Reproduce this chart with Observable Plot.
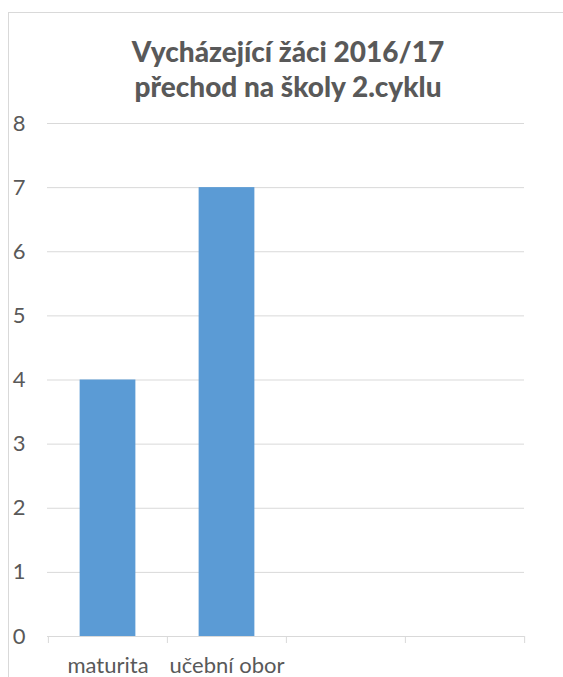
<!DOCTYPE html>
<html>
<head>
<meta charset="utf-8">
<script src="https://cdn.jsdelivr.net/npm/d3@7"></script>
<script src="https://cdn.jsdelivr.net/npm/@observablehq/plot@0.6"></script>
<style>
  html, body { margin: 0; padding: 0; background: #fff; }
  #wrap { position: relative; width: 563px; height: 677px; overflow: hidden; font-family: Lato, "Open Sans", sans-serif; }
  #frame { position: absolute; left: 8px; top: 12px; width: 600px; height: 700px; border-left: 1px solid #d9d9d9; border-top: 1px solid #d9d9d9; }
  #title { position: absolute; left: 20px; top: 34px; width: 536px; text-align: center; font-weight: 900; font-size: 28px; line-height: 35px; color: #595959; white-space: nowrap; }
  #chart { position: absolute; left: 0; top: 0; }
</style>
</head>
<body>
<div id="wrap">
  <div id="frame"></div>
  <div id="chart"></div>
  <div id="title">Vycházející žáci 2016/17<br>přechod na školy 2.cyklu</div>
</div>
<script>
const categories = ["maturita", "učební obor", "slot3", "slot4"];
const tickLabels = ["maturita", "učební obor", "", ""];
const values = [4, 7];
const yTicks = [0, 1, 2, 3, 4, 5, 6, 7, 8];

const data = values.map((v, i) => ({cat: categories[i], value: v}));
const W = 563, H = 677, mL = 47, mR = 39, mT = 123, mB = 41;
const bw = (W - mL - mR) / categories.length;
const barW = 56;
const inset = (bw - barW) / 2;
const textColor = "#595959";
const gridColor = "#d9d9d9";

const chart = Plot.plot({
  width: W,
  height: H,
  marginLeft: mL,
  marginRight: mR,
  marginTop: mT,
  marginBottom: mB,
  style: {fontFamily: "Lato, 'Open Sans', sans-serif", background: "transparent", color: textColor},
  x: {domain: categories, padding: 0},
  y: {domain: [0, 8]},
  marks: [
    Plot.gridY(yTicks.filter(d => d > 0), {stroke: gridColor, strokeOpacity: 1, strokeWidth: 1}),
    Plot.barY(data, {x: "cat", y: "value", fill: "#5b9bd5", insetLeft: inset, insetRight: inset}),
    Plot.ruleY([0], {stroke: gridColor, strokeWidth: 1}),
    Plot.axisY(yTicks, {tickSize: 0, tickPadding: 22, fontSize: 22, fill: textColor, label: null, tickFormat: "d"}),
    Plot.axisX(categories, {tickSize: 7, text: null, dx: -bw / 2, stroke: gridColor, label: null}),
    Plot.axisX(categories.slice(-1), {tickSize: 7, text: null, dx: bw / 2, stroke: gridColor, label: null}),
    Plot.axisX(categories, {tickSize: 0, tickPadding: 21, fontSize: 22, fill: textColor, label: null,
      tickFormat: d => tickLabels[categories.indexOf(d)]})
  ]
});
document.getElementById("chart").appendChild(chart);
</script>
</body>
</html>
